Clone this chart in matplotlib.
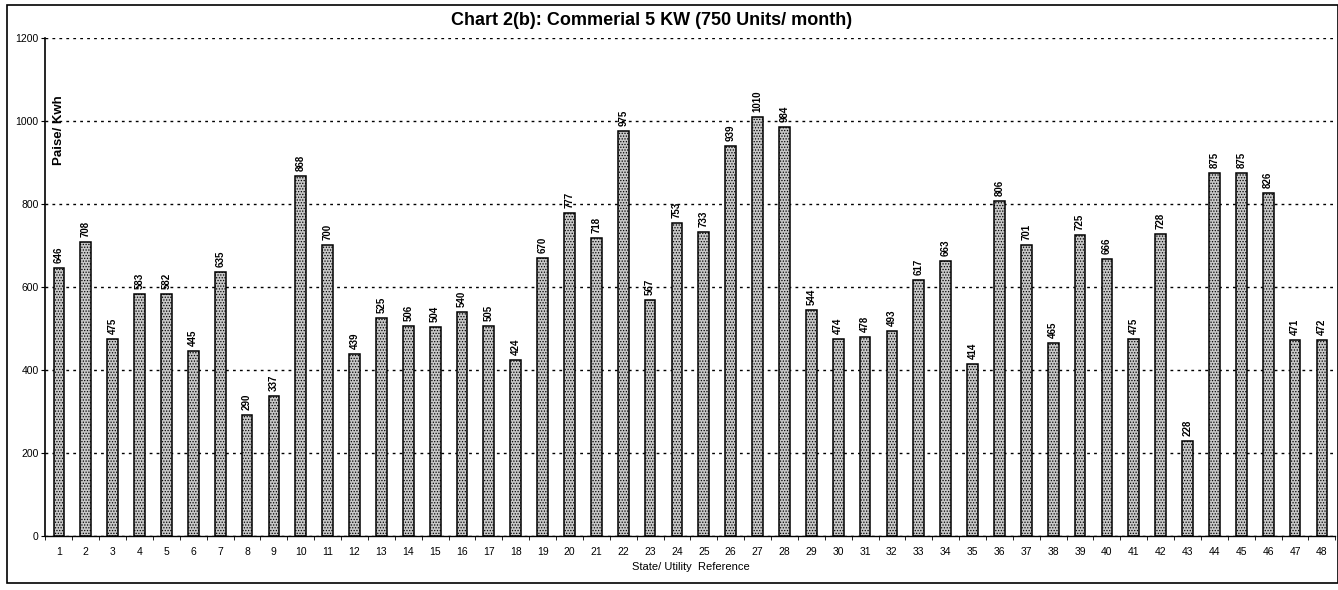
import numpy as np
import matplotlib
matplotlib.use("Agg")
import matplotlib.pyplot as plt
from matplotlib.patches import Rectangle

refs = list(range(1, 49))
values = [646, 708, 475, 583, 582, 445, 635, 290, 337, 868,
          700, 439, 525, 506, 504, 540, 505, 424, 670, 777,
          718, 975, 567, 753, 733, 939, 1010, 984, 544, 474,
          478, 493, 617, 663, 414, 806, 701, 465, 725, 666,
          475, 728, 228, 875, 875, 826, 471, 472]
yticks = [0, 200, 400, 600, 800, 1000, 1200]

plt.rcParams['font.family'] = ['Liberation Sans', 'DejaVu Sans']
plt.rcParams['hatch.color'] = '#7a7a7a'
plt.rcParams['hatch.linewidth'] = 0.6

fig = plt.figure(figsize=(13.38, 5.9), dpi=100)
ax = fig.add_axes([0.034, 0.092, 0.964, 0.844])

bars = ax.bar(refs, values, width=0.4, facecolor='#c8c8c8', edgecolor='black',
              linewidth=1.1, hatch='......', zorder=3)

for x, v in zip(refs, values):
    ax.text(x, v + 12, str(v), rotation=90, ha='center', va='bottom',
            fontsize=7, fontweight='bold', zorder=4)

ax.set_xlim(0.5, 48.5)
ax.set_ylim(0, 1200)
ax.set_yticks(yticks)
ax.set_yticklabels([str(t) for t in yticks], fontsize=7.5)
ax.set_xticks(refs)
ax.set_xticklabels([str(r) for r in refs], fontsize=7.5)
ax.set_xticks(np.arange(0.5, 49, 1), minor=True)
ax.tick_params(axis='x', which='major', length=0, pad=8)
ax.tick_params(axis='x', which='minor', length=3, direction='out')
ax.tick_params(axis='y', length=3, direction='out', pad=2)

ax.yaxis.grid(True, linestyle=(0, (2, 3)), color='black', linewidth=1.0, zorder=0)
ax.spines['top'].set_visible(False)
ax.spines['right'].set_visible(False)
ax.spines['left'].set_linewidth(1.2)
ax.spines['bottom'].set_linewidth(1.0)

ax.text(0.006, 0.815, 'Paise/ Kwh', rotation=90, transform=ax.transAxes,
        ha='left', va='center', fontsize=9.5, fontweight='bold')
ax.set_xlabel('State/ Utility  Reference', fontsize=8, labelpad=4)
fig.text(0.487, 0.966, 'Chart 2(b): Commerial 5 KW (750 Units/ month)',
         ha='center', va='center', fontsize=13, fontweight='bold')

frame = Rectangle((0.005, 0.012), 0.995, 0.98, transform=fig.transFigure,
                  fill=False, edgecolor='black', linewidth=1.2)
fig.patches.append(frame)

fig.savefig('out.png', dpi=100)
